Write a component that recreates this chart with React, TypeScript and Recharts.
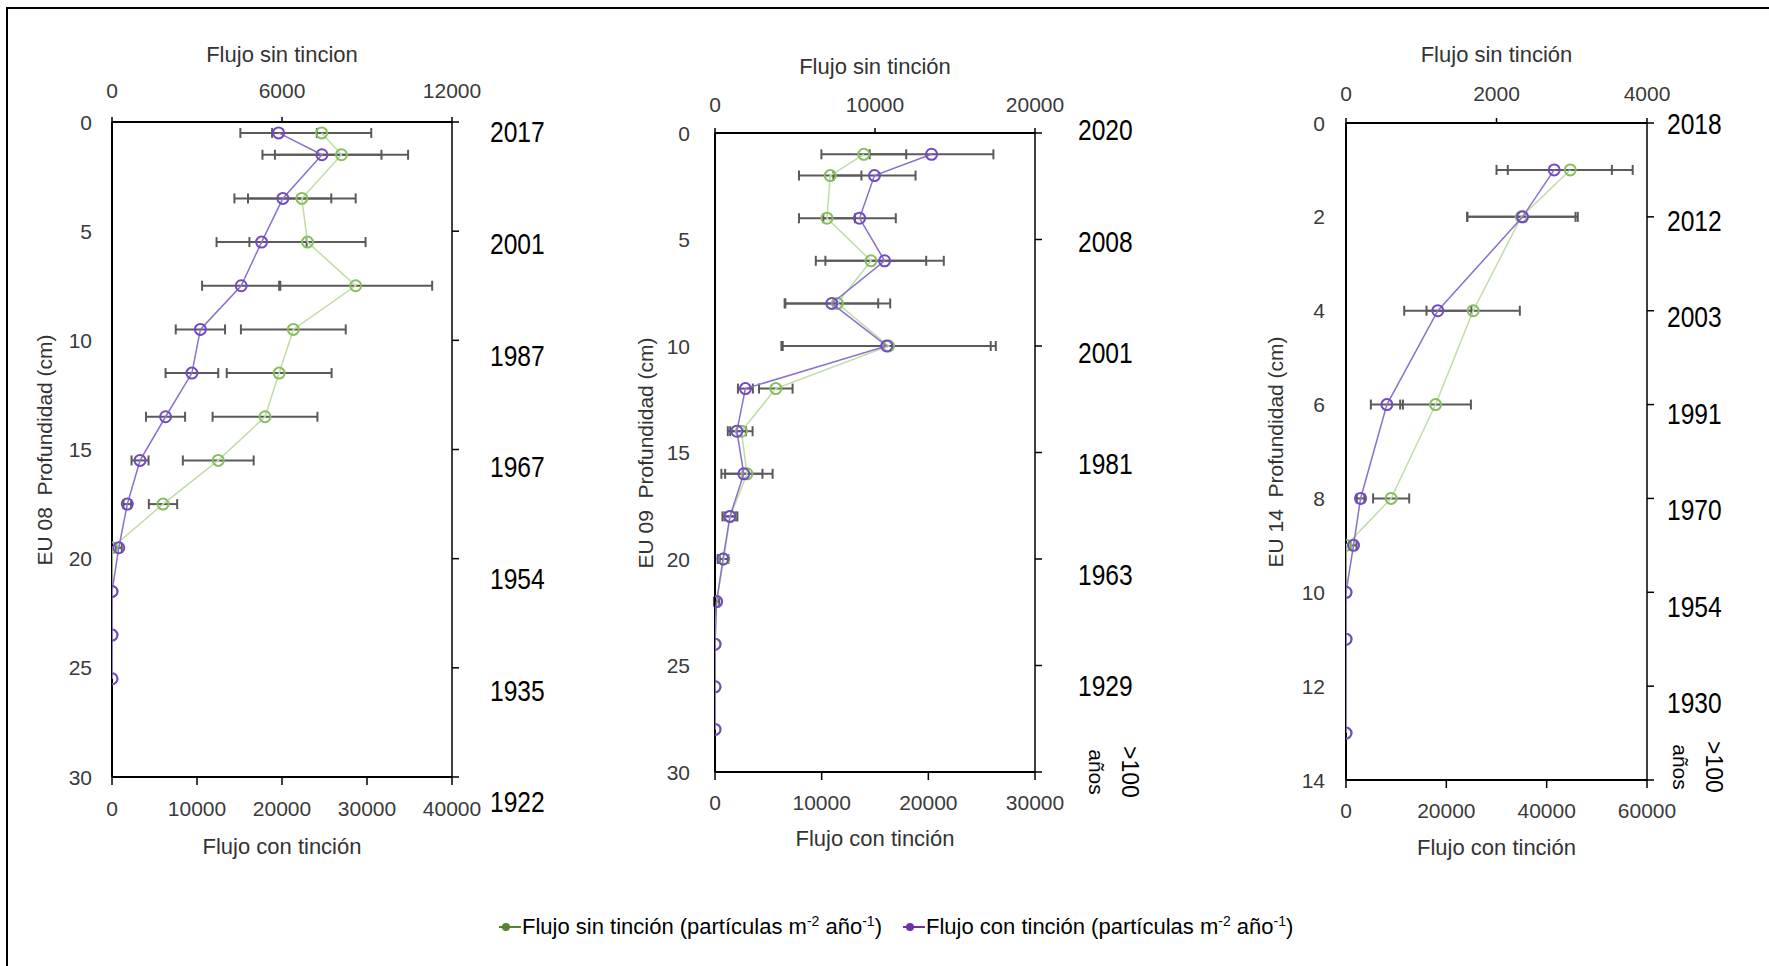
import React from "react";
import { ScatterChart, Scatter, XAxis, YAxis, ErrorBar } from "recharts";

// EU 08
const depth08 = [0.5, 1.5, 3.5, 5.5, 7.5, 9.5, 11.5, 13.5, 15.5, 17.5, 19.5, 21.5, 23.5, 25.5];
const sin08 = [7400, 8100, 6700, 6900, 8600, 6400, 5900, 5400, 3750, 1800, 0, 0, 0, 0];
const sinErr08 = [1750, 2350, 1900, 2050, 2700, 1850, 1850, 1850, 1250, 500, 0, 0, 0, 0];
const con08 = [19600, 24700, 20100, 17600, 15200, 10400, 9400, 6300, 3300, 1800, 800, 0, 0, 0];
const conErr08 = [4500, 7000, 5700, 5300, 4600, 2900, 3100, 2300, 1000, 450, 350, 0, 0, 0];
const years08 = ["2017", "2001", "1987", "1967", "1954", "1935", "1922"];

// EU 09
const depth09 = [1, 2, 4, 6, 8, 10, 12, 14, 16, 18, 20, 22, 24, 26, 28];
const sin09 = [9300, 7200, 7000, 9750, 7650, 10850, 3800, 1650, 2000, 950, 550, 100, 0, 0, 0];
const sinErr09 = [2650, 1950, 1750, 3450, 3300, 6700, 1050, 700, 1600, 350, 250, 0, 0, 0, 0];
const con09 = [20300, 14950, 13550, 15900, 10950, 16100, 2850, 2050, 2700, 1400, 750, 150, 0, 0, 0];
const conErr09 = [5800, 3850, 3400, 5550, 4350, 9750, 700, 850, 1750, 700, 500, 250, 0, 0, 0];
const years09 = ["2020", "2008", "2001", "1981", "1963", "1929", ">100 años"];

// EU 14
const depth14 = [1, 2, 4, 6, 8, 9, 10, 11, 13];
const sin14 = [2980, 2330, 1690, 1190, 600, 0, 0, 0, 0];
const sinErr14 = [830, 720, 620, 470, 240, 0, 0, 0, 0];
const con14 = [41500, 35200, 18300, 8150, 2900, 1500, 0, 0, 0];
const conErr14 = [11500, 11000, 6700, 3200, 760, 600, 0, 0, 0];
const years14 = ["2018", "2012", "2003", "1991", "1970", "1954", "1930", ">100 años"];

const FONT = '"Liberation Sans", Arial, sans-serif';
const GREEN = "#86bf5e";
const GREEN_LINE = "#bfdda4";
const PURPLE = "#7548c4";
const PURPLE_LINE = "#8a70cf";
const BAR = "#5a5a5a";

const rows = (d: number[], v: number[], e: number[]) => d.map((dd, i) => ({ d: dd, v: v[i], e: e[i] }));

const ring = (color: string) => (p: any) =>
  p.cx == null ? <g /> : <circle cx={p.cx} cy={p.cy} r={5.5} fill="none" stroke={color} strokeWidth={2} />;

const NumTick = (p: any) => (
  <text x={p.x} y={p.y} textAnchor={p.textAnchor} dominantBaseline="central" fontSize={21} fill="#3a3a3a" fontFamily={FONT}>
    {p.payload.value}
  </text>
);

const yearTick = (years: string[], ticks: number[], base: number, slope: number, bx: number, by: number) => (p: any) => {
  const i = ticks.indexOf(p.payload.value);
  const label = years[i];
  if (label == null) return <g />;
  if (label.startsWith(">")) {
    const parts = label.split(" ");
    return (
      <g transform={`translate(${p.x + bx},${p.y + by}) rotate(90)`}>
        <text x={0} y={-17} textAnchor="middle" dominantBaseline="central" fontSize={23} fill="#000" fontFamily={FONT}>{parts[0]}</text>
        <text x={0} y={17} textAnchor="middle" dominantBaseline="central" fontSize={21} fill="#000" fontFamily={FONT}>{parts[1]}</text>
      </g>
    );
  }
  const dy = base + (slope * i) / (ticks.length - 1);
  return (
    <text transform={`translate(${p.x},${p.y + dy}) scale(0.82,1)`} textAnchor="start" dominantBaseline="central" fontSize={30} fill="#000" fontFamily={FONT}>
      {label}
    </text>
  );
};

type Cfg = {
  L: number; R: number; T: number; B: number;
  topTicks: number[]; botTicks: number[]; depthTicks: number[];
  topM: number; botM: number; leftM: number; yearM: number;
  base: number; slope: number; bx: number; by: number;
  years: string[]; green: any[]; purple: any[];
  topTitle: string; topY: number; botY: number; leftTitle: string; leftX: number;
};

function Panel({ c }: { c: Cfg }) {
  const wL = 60, wR = 110, hT = 70, hB = 60;
  const dMax = c.depthTicks[c.depthTicks.length - 1];
  const cx = (c.L + c.R) / 2;
  const title: React.CSSProperties = {
    position: "absolute", transform: "translate(-50%,-50%)", whiteSpace: "pre", fontSize: 22, color: "#333", fontFamily: FONT, lineHeight: 1,
  };
  return (
    <>
      <div style={{ position: "absolute", left: c.L - wL, top: c.T - hT }}>
        <ScatterChart width={wL + c.R - c.L + wR} height={hT + c.B - c.T + hB} margin={{ top: 0, right: 0, bottom: 0, left: 0 }}>
          <XAxis xAxisId="top" orientation="top" type="number" dataKey="v" domain={[0, c.topTicks[c.topTicks.length - 1]]}
            ticks={c.topTicks} interval={0} allowDataOverflow height={hT} tickSize={5} tickMargin={c.topM}
            axisLine={{ stroke: "#000", strokeWidth: 2 }} tickLine={{ stroke: "#000", strokeWidth: 1.5 }} tick={NumTick} />
          <XAxis xAxisId="bot" orientation="bottom" type="number" dataKey="v" domain={[0, c.botTicks[c.botTicks.length - 1]]}
            ticks={c.botTicks} interval={0} allowDataOverflow height={hB} tickSize={8} tickMargin={c.botM}
            axisLine={{ stroke: "#000", strokeWidth: 2 }} tickLine={{ stroke: "#000", strokeWidth: 1.5 }} tick={NumTick} />
          <YAxis yAxisId="d" orientation="left" type="number" dataKey="d" domain={[0, dMax]} reversed allowDataOverflow
            ticks={c.depthTicks} interval={0} width={wL} tickLine={false} tickSize={0} tickMargin={c.leftM}
            axisLine={{ stroke: "#000", strokeWidth: 2 }} tick={NumTick} />
          <YAxis yAxisId="yr" orientation="right" type="number" dataKey="d" domain={[0, dMax]} reversed allowDataOverflow
            ticks={c.depthTicks} interval={0} width={wR} tickSize={7} tickMargin={c.yearM}
            axisLine={{ stroke: "#000", strokeWidth: 1.5 }} tickLine={{ stroke: "#000", strokeWidth: 1.5 }}
            tick={yearTick(c.years, c.depthTicks, c.base, c.slope, c.bx, c.by)} />
          <Scatter data={c.green} xAxisId="top" yAxisId="d" isAnimationActive={false} shape={ring(GREEN)}
            line={{ stroke: GREEN_LINE, strokeWidth: 1.5 }} lineType="joint">
            <ErrorBar dataKey="e" direction="x" stroke={BAR} strokeWidth={2} width={5} />
          </Scatter>
          <Scatter data={c.purple} xAxisId="bot" yAxisId="yr" isAnimationActive={false} shape={ring(PURPLE)}
            line={{ stroke: PURPLE_LINE, strokeWidth: 1.5 }} lineType="joint">
            <ErrorBar dataKey="e" direction="x" stroke={BAR} strokeWidth={2} width={5} />
          </Scatter>
        </ScatterChart>
      </div>
      <div style={{ ...title, left: cx, top: c.topY }}>{c.topTitle}</div>
      <div style={{ ...title, left: cx, top: c.botY }}>Flujo con tinción</div>
      <div style={{ ...title, fontSize: 21, left: c.leftX, top: (c.T + c.B) / 2, transform: "translate(-50%,-50%) rotate(-90deg)" }}>
        {c.leftTitle}
      </div>
    </>
  );
}

const panels: Cfg[] = [
  {
    L: 112, R: 452, T: 122, B: 777,
    topTicks: [0, 6000, 12000], botTicks: [0, 10000, 20000, 30000, 40000], depthTicks: [0, 5, 10, 15, 20, 25, 30],
    topM: 27, botM: 23, leftM: 20, yearM: 31, base: 10, slope: 15, bx: 0, by: 0,
    years: years08, green: rows(depth08, sin08, sinErr08), purple: rows(depth08, con08, conErr08),
    topTitle: "Flujo sin tincion", topY: 55, botY: 847, leftTitle: "EU 08  Profundidad (cm)", leftX: 44,
  },
  {
    L: 715, R: 1035, T: 133, B: 772,
    topTicks: [0, 10000, 20000], botTicks: [0, 10000, 20000, 30000], depthTicks: [0, 5, 10, 15, 20, 25, 30],
    topM: 24, botM: 22, leftM: 25, yearM: 36, base: -3, slope: 28, bx: 35, by: 0,
    years: years09, green: rows(depth09, sin09, sinErr09), purple: rows(depth09, con09, conErr09),
    topTitle: "Flujo sin tinción", topY: 67, botY: 839, leftTitle: "EU 09  Profundidad (cm)", leftX: 645,
  },
  {
    L: 1346, R: 1647, T: 123, B: 780,
    topTicks: [0, 2000, 4000], botTicks: [0, 20000, 40000, 60000], depthTicks: [0, 2, 4, 6, 8, 10, 12, 14],
    topM: 25, botM: 22, leftM: 21, yearM: 13, base: 1, slope: 18, bx: 30, by: -13,
    years: years14, green: rows(depth14, sin14, sinErr14), purple: rows(depth14, con14, conErr14),
    topTitle: "Flujo sin tinción", topY: 55, botY: 848, leftTitle: "EU 14  Profundidad (cm)", leftX: 1275,
  },
];

const LegendItem = ({ color, left, text, sup1, sup2 }: { color: string; left: number; text: string; sup1: string; sup2: string }) => (
  <div style={{ position: "absolute", left, top: 927, transform: "translateY(-50%)", display: "flex", alignItems: "center", fontFamily: FONT, fontSize: 22, color: "#000", whiteSpace: "nowrap", lineHeight: 1 }}>
    <svg width={24} height={12} style={{ display: "block" }}>
      <line x1={1} y1={6} x2={23} y2={6} stroke={color} strokeWidth={2} />
      <circle cx={8} cy={6} r={4} fill={color} />
    </svg>
    <span>
      {text}
      <span style={{ fontSize: 14, position: "relative", top: -8 }}>{sup1}</span>
      {" año"}
      <span style={{ fontSize: 14, position: "relative", top: -8 }}>{sup2}</span>)
    </span>
  </div>
);

export default function App() {
  return (
    <div style={{ position: "absolute", left: 0, top: 0, width: 1769, height: 966, background: "#fff", overflow: "hidden", fontFamily: FONT }}>
      <div style={{ position: "absolute", left: 6, top: 7, width: 1763, height: 2, background: "#000" }} />
      <div style={{ position: "absolute", left: 6, top: 7, width: 2, height: 959, background: "#000" }} />
      {panels.map((c, i) => (
        <Panel key={i} c={c} />
      ))}
      <LegendItem color="#548235" left={498} text="Flujo sin tinción (partículas m" sup1="-2" sup2="-1" />
      <LegendItem color="#7030a0" left={902} text="Flujo con tinción (partículas m" sup1="-2" sup2="-1" />
    </div>
  );
}
